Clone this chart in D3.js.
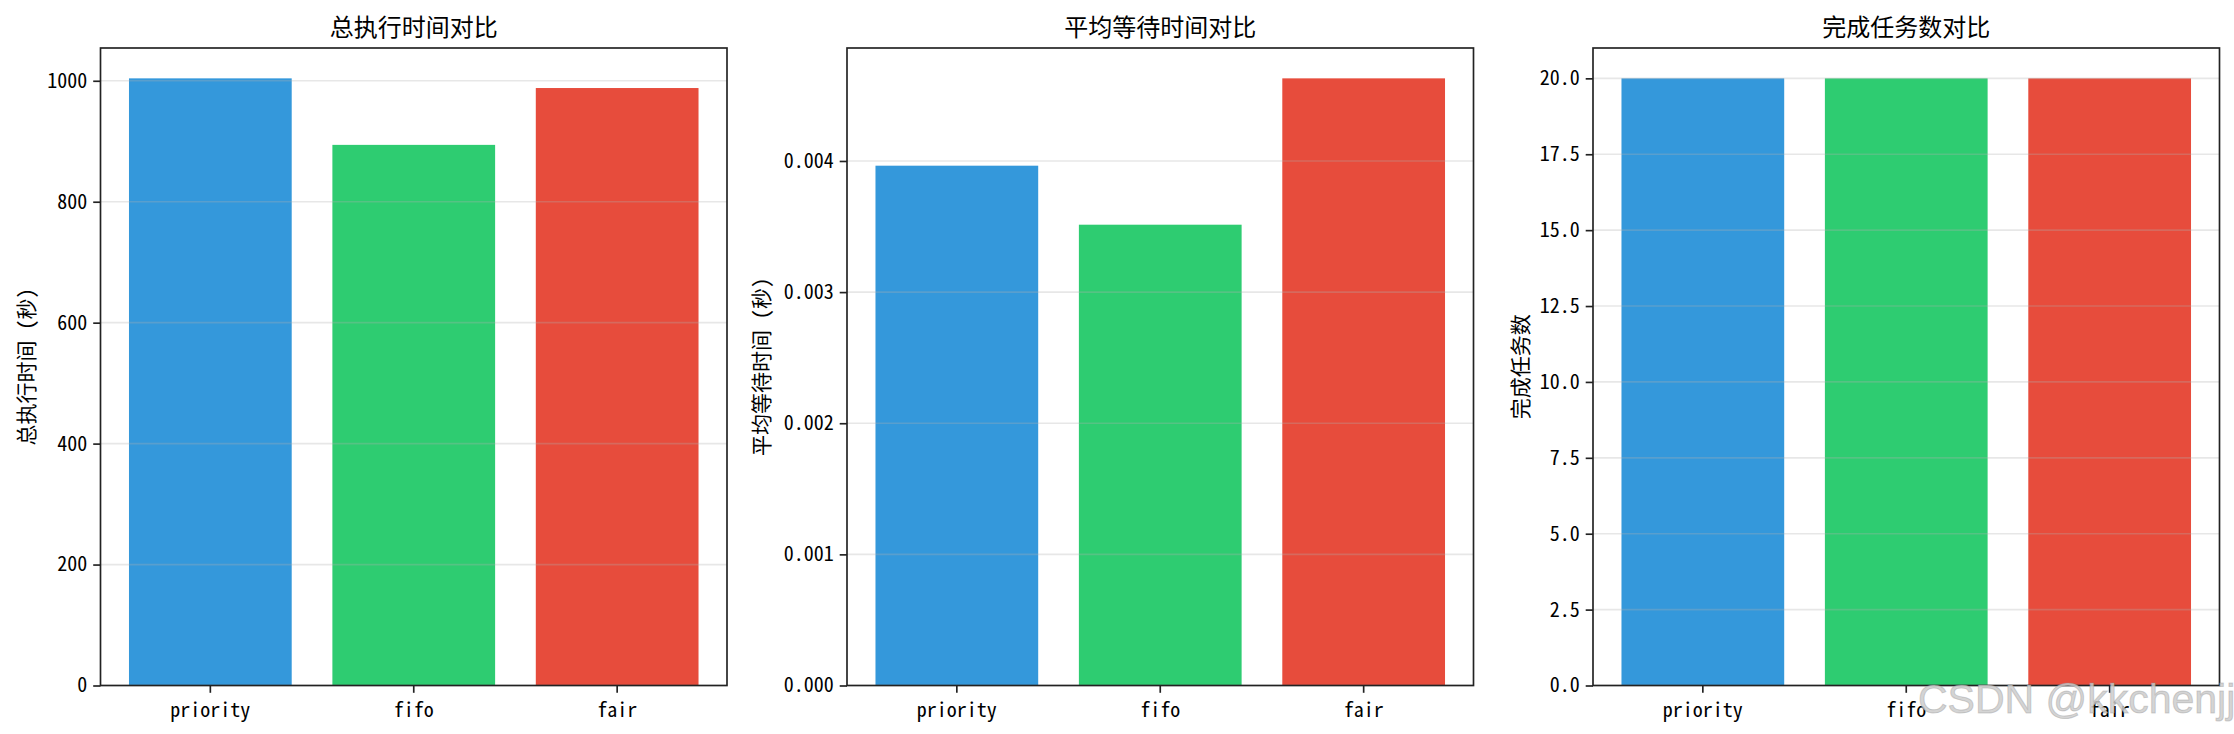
<!DOCTYPE html>
<html>
<head>
<meta charset="utf-8">
<script src="https://cdn.jsdelivr.net/npm/d3@7"></script>
<style>
  body { margin: 0; background: #fff; }
  svg text { font-family: "Noto Sans Mono CJK SC", "Noto Sans CJK SC", sans-serif; fill: #000; }
</style>
</head>
<body>
<svg id="chart" width="2234" height="734"></svg>
<script>
// strategies compared in every panel
const strategies = ["priority", "fifo", "fair"];
const barColors = ["#3498db", "#2ecc71", "#e74c3c"];

// series values
const totalTime = [1004, 894, 988];
const avgWait = [0.003964, 0.003514, 0.00463];
const completedTasks = [20, 20, 20];

// titles and labels
const titles = ["总执行时间对比", "平均等待时间对比", "完成任务数对比"];
const yLabels = ["总执行时间 (秒)", "平均等待时间 (秒)", "完成任务数"];

// tick labels
const ticksTotal = [0, 200, 400, 600, 800, 1000];
const ticksWait = [0, 0.001, 0.002, 0.003, 0.004];
const ticksDone = [0, 2.5, 5, 7.5, 10, 12.5, 15, 17.5, 20];

const panels = [
    { values: totalTime, ticks: ticksTotal, fmt: d3.format("d"), left: 100.5, labelX: 25 },
    { values: avgWait, ticks: ticksWait, fmt: d3.format(".3f"), left: 847, labelX: 760 },
    { values: completedTasks, ticks: ticksDone, fmt: d3.format(".1f"), left: 1593, labelX: 1519 }
];

const svg = d3.select("#chart");
const axW = 626.5, axTop = 48, axBottom = 685.5;

panels.forEach((p, k) => {
    const g = svg.append("g").attr("transform", `translate(${p.left},0)`);

    const x = d3.scaleBand()
        .domain(strategies)
        .range([0, axW])
        .paddingInner(0.2)
        .paddingOuter(0.14);

    const y = d3.scaleLinear()
        .domain([0, d3.max(p.values) * 1.05])
        .range([axBottom, axTop]);

    // bars
    g.selectAll("rect.bar")
        .data(p.values)
        .enter()
        .append("rect")
        .attr("class", "bar")
        .attr("x", (d, i) => x(strategies[i]))
        .attr("y", d => y(d))
        .attr("width", x.bandwidth())
        .attr("height", d => y(0) - y(d))
        .style("fill", (d, i) => barColors[i]);

    // horizontal grid, drawn over the bars like matplotlib does
    g.selectAll("line.grid")
        .data(p.ticks)
        .enter()
        .append("line")
        .attr("class", "grid")
        .attr("x1", 0)
        .attr("x2", axW)
        .attr("y1", d => y(d))
        .attr("y2", d => y(d))
        .style("stroke", "#b0b0b0")
        .style("stroke-opacity", 0.3)
        .style("stroke-width", "1.67px");

    // y axis
    const yAxis = g.append("g")
        .call(d3.axisLeft(y).tickValues(p.ticks).tickFormat(p.fmt).tickSize(7.3).tickPadding(6));
    yAxis.select(".domain").remove();
    yAxis.selectAll("line").style("stroke", "#222").style("stroke-width", "1.67px");
    yAxis.selectAll("text").style("font-size", "20px");

    // x axis
    const xAxis = g.append("g")
        .attr("transform", `translate(0,${axBottom})`)
        .call(d3.axisBottom(x).tickSize(7.3).tickPadding(6));
    xAxis.select(".domain").remove();
    xAxis.selectAll("line").style("stroke", "#222").style("stroke-width", "1.67px");
    xAxis.selectAll("text").style("font-size", "20px").attr("dy", "0.9em");

    // frame
    g.append("rect")
        .attr("x", 0)
        .attr("y", axTop)
        .attr("width", axW)
        .attr("height", axBottom - axTop)
        .style("fill", "none")
        .style("stroke", "#222")
        .style("stroke-width", "1.67px");

    // title
    g.append("text")
        .attr("x", axW / 2)
        .attr("y", 36)
        .attr("text-anchor", "middle")
        .style("font-size", "24px")
        .text(titles[k]);

    // y label
    svg.append("text")
        .attr("transform", `translate(${p.labelX},${(axTop + axBottom) / 2}) rotate(-90)`)
        .attr("text-anchor", "middle")
        .attr("dominant-baseline", "central")
        .style("font-size", "21px")
        .text(yLabels[k]);
});

// watermark
svg.append("text")
    .attr("x", 1918)
    .attr("y", 713)
    .style("font-family", "'Liberation Sans', Arial, sans-serif")
    .style("font-size", "41px")
    .style("fill", "rgba(205,205,205,0.85)")
    .style("stroke", "rgba(140,140,140,0.35)")
    .style("stroke-width", "1px")
    .text("CSDN @kkchenjj");
</script>
</body>
</html>
